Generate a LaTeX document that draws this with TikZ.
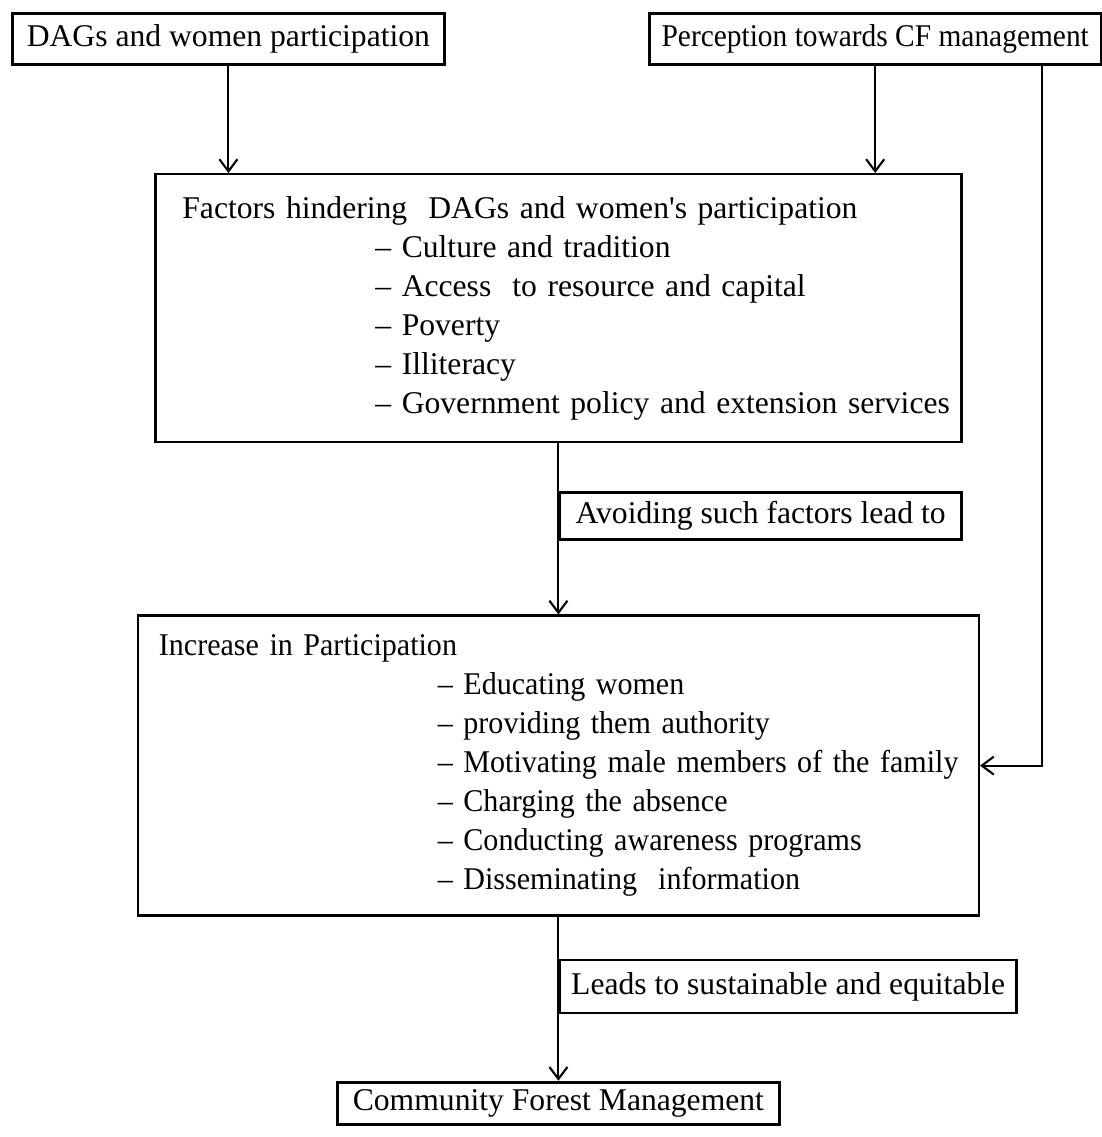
\documentclass[tikz,border=0pt]{standalone}
\usepackage{fontspec}
\setmainfont{Liberation Serif}
\usetikzlibrary{positioning, arrows, arrows.meta}
\tikzstyle{block} = [rectangle, minimum height=1.275cm, text centered, draw=black, line width=2pt, inner xsep=2pt, inner ysep=2pt]
\tikzstyle{bigblock} = [rectangle, align=left, draw=black, line width=1.6pt, inner xsep=0.15cm]
\tikzstyle{tag} = [rectangle, text centered, draw=black, line width=1.8pt, inner xsep=2pt, inner ysep=2pt]
\tikzstyle{arrow} = [line width=1.5pt,->,>={Straight Barb[length=3mm,width=4.5mm]}]

\begin{document}
\begin{tikzpicture}[font=\fontsize{22.5}{27.7}\selectfont]
\useasboundingbox (0,0) rectangle (27.525,-28.425);

% Top inputs
\node (dags) [block, minimum width=10.8cm, anchor=north west] at (0.275,-0.3) {DAGs and women participation};
\node (perc) [block, minimum width=11.3cm, right=5.05cm of dags] {\addfontfeature{FakeStretch=0.93}Perception towards CF management};

% Hindering factors
\node (factors) [bigblock, text width=19.85cm, minimum height=6.7cm, below=2.68cm of dags.south, xshift=8.25cm] {%
\hspace*{0.525cm}Factors hindering\ \ DAGs and women\textquotesingle s participation\\
\hspace*{5.35cm}-- Culture and tradition\\
\hspace*{5.35cm}-- Access\ \ to resource and capital\\
\hspace*{5.35cm}-- Poverty\\
\hspace*{5.35cm}-- Illiteracy\\
\hspace*{5.35cm}\mbox{-- Government policy and extension services}};

% Increase in participation
\node (increase) [bigblock, text width=20.725cm, minimum height=7.5cm, below=4.28cm of factors] {%
\addfontfeature{FakeStretch=0.95}%
\hspace*{0.375cm}Increase in Participation\\
\hspace*{7.35cm}-- Educating women\\
\hspace*{7.35cm}-- providing them authority\\
\hspace*{7.35cm}\mbox{-- Motivating male members of the family}\\
\hspace*{7.35cm}-- Charging the absence\\
\hspace*{7.35cm}-- Conducting awareness programs\\
\hspace*{7.35cm}-- Disseminating\ \ information};

% Outcome
\node (cfm) [block, minimum width=11.05cm, minimum height=1.05cm, below=4.1cm of increase] {Community Forest Management};

% Labels on the links
\node (avoid) [tag, minimum width=10.05cm, minimum height=1.175cm, below right=1.2cm and 0cm of factors.south] {Avoiding such factors lead to};
\node (leads) [tag, minimum width=11.425cm, minimum height=1.325cm, below right=1.05cm and 0cm of increase.south] {Leads to sustainable and equitable};

% Arrows
\draw [arrow] (dags.south) -- (dags.south |- factors.north);
\draw [arrow] (perc.south) -- (perc.south |- factors.north);
\draw [arrow] ([xshift=-1.525cm]perc.south east) |- (increase.east);
\draw [arrow] (factors.south) -- (factors.south |- increase.north);
\draw [arrow] (increase.south) -- (increase.south |- cfm.north);

\end{tikzpicture}
\end{document}
